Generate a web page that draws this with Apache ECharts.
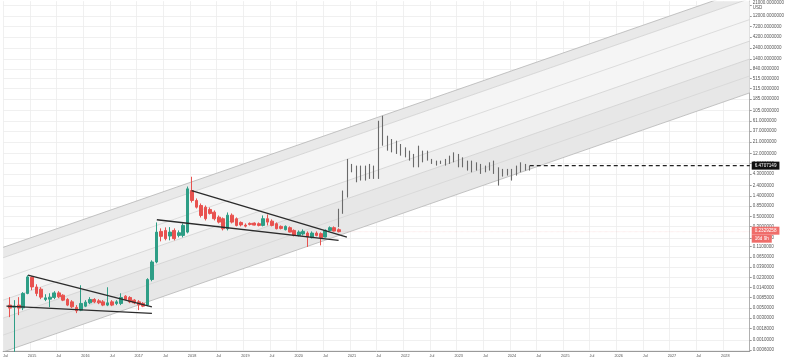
<!DOCTYPE html>
<html><head><meta charset="utf-8">
<script src="https://cdn.jsdelivr.net/npm/echarts@6/dist/echarts.min.js"></script>
<style>html,body{margin:0;padding:0;background:#fff}#c{width:787px;height:360px}</style>
</head><body><div id="c"></div>
<script>
// ---------- DATA ----------
const startYear = 2014, startMonth = 6; // first category = Jul 2014
const monthCount = 168;
const yTickLabels = ["21000.0000000","12000.0000000","7200.0000000","4200.0000000","2400.0000000","1400.0000000","840.0000000","515.0000000","315.0000000","185.0000000","105.0000000","61.0000000","37.0000000","21.0000000","12.0000000","7.2000000","4.3000000","2.4000000","1.4000000","0.8500000","0.5000000","0.3000000","0.1700000","0.1100000","0.0650000","0.0390000","0.0230000","0.0140000","0.0085000","0.0050000","0.0030000","0.0018000","0.0010000","0.0006000"];
const yUnit = "USD";
// coloured monthly candles [open, close, low, high], first one at category 1 (Aug 2014)
const candleStart = 1;
const candleOCLH = [
[0.00578,0.00497,0.00316,0.00863],[0.00522,0.00549,0.00055,0.00742],[0.00578,0.00497,0.00349,0.00863],
[0.00504,0.0104,0.00449,0.0111],[0.0104,0.0239,0.0100,0.0260],[0.0235,0.0144,0.01225,0.0247],
[0.0144,0.0104,0.00907,0.0165],[0.0129,0.00863,0.0078,0.0142],[0.00768,0.00833,0.00706,0.0100],
[0.0078,0.00863,0.00522,0.0105],[0.0085,0.0107,0.0078,0.01165],[0.0107,0.00876,0.0082,0.01165],
[0.00953,0.00742,0.00706,0.0100],[0.00768,0.00578,0.00549,0.0082],[0.00681,0.0053,0.00497,0.00742],
[0.00515,0.00434,0.00386,0.00578],[0.00449,0.00629,0.00427,0.0157],[0.00549,0.00671,0.00522,0.00742],
[0.00648,0.00768,0.00607,0.00863],[0.00768,0.00681,0.00638,0.0082],[0.00716,0.00648,0.00607,0.0078],
[0.00681,0.00578,0.00549,0.00742],[0.00578,0.00648,0.00549,0.0142],[0.00681,0.00578,0.00549,0.00742],
[0.00629,0.00681,0.00578,0.00742],[0.00629,0.0085,0.00578,0.0105],[0.00907,0.00768,0.00742,0.00953],
[0.0085,0.00681,0.00638,0.00907],[0.00742,0.00648,0.00607,0.0078],[0.00681,0.00586,0.00449,0.00742],
[0.00629,0.00549,0.00522,0.00671],[0.00578,0.021,0.00549,0.0224],[0.021,0.0507,0.0192,0.0552],
[0.0507,0.228,0.0475,0.371],[0.236,0.184,0.143,0.275],[0.248,0.164,0.1505,0.289],
[0.187,0.228,0.1505,0.293],[0.248,0.164,0.1505,0.275],[0.193,0.221,0.175,0.248],
[0.193,0.319,0.175,0.353],[0.228,2.01,0.214,2.26],[1.85,1.12,1.01,3.7],
[1.12,0.80,0.749,1.24],[0.871,0.527,0.477,0.963],[0.80,0.447,0.410,0.871],
[0.713,0.583,0.554,0.788],[0.622,0.447,0.410,0.678],[0.484,0.377,0.353,0.527],
[0.447,0.271,0.248,0.477],[0.271,0.535,0.248,0.613],[0.535,0.377,0.353,0.583],
[0.447,0.319,0.304,0.477],[0.371,0.328,0.304,0.390],[0.324,0.308,0.289,0.353],
[0.353,0.336,0.319,0.371],[0.359,0.324,0.319,0.371],[0.348,0.319,0.304,0.371],
[0.319,0.447,0.304,0.527],[0.447,0.377,0.319,0.554],[0.396,0.319,0.304,0.432],
[0.348,0.271,0.261,0.371],[0.304,0.275,0.261,0.319],[0.2575,0.304,0.248,0.319],
[0.285,0.228,0.225,0.304],[0.248,0.193,0.184,0.261],[0.193,0.228,0.184,0.248],
[0.208,0.236,0.193,0.261],[0.217,0.178,0.108,0.236],[0.172,0.217,0.166,0.236],
[0.217,0.193,0.184,0.236],[0.211,0.172,0.117,0.225],[0.178,0.248,0.175,0.261],
[0.248,0.285,0.236,0.304],[0.285,0.240,0.236,0.304],[0.2575,0.233,0.225,0.275]
];
// grey bars [open, close, low, high], first one at category 75 (Oct 2020)
const barStart = 75;
const barOCLH = [
[0.336,0.613,0.293,0.738],[0.613,1.438,0.574,1.848],[1.438,6.48,1.301,9.07],[6.48,5.04,4.63,7.05],
[5.04,3.92,2.80,6.48],[3.92,5.04,3.05,6.48],[5.04,4.56,3.05,6.48],[4.56,5.57,3.32,7.05],
[5.57,5.04,3.32,6.48],[5.04,37.5,3.32,61.9],[37.5,25.1,17.67,79.5],[25.1,17.67,13.75,29.2],
[17.67,15.98,12.62,24.7],[15.98,13.75,11.66,22.7],[13.75,15.2,10.70,19.24],[15.2,11.83,9.83,16.23],
[11.83,9.68,8.32,13.75],[9.68,7.16,5.95,11.66],[7.16,12.44,5.95,17.67],[12.44,10.18,7.64,13.75],
[10.18,9.21,8.32,13.75],[8.76,7.53,7.05,9.07],[7.53,7.16,6.48,8.32],[7.91,7.53,7.05,8.32],
[7.53,8.32,6.48,9.07],[8.32,9.68,7.05,10.70],[9.68,10.18,7.64,12.62],[10.18,7.53,5.95,11.66],
[7.53,6.81,5.95,9.83],[6.81,5.86,5.04,8.32],[5.86,6.16,4.63,8.32],[6.16,5.57,5.04,7.64],
[5.57,5.04,4.27,7.05],[5.04,5.86,4.63,6.48],[5.86,6.48,5.04,7.64],[6.48,5.04,4.27,8.32],
[5.04,3.73,2.374,5.95],[3.92,4.79,3.73,5.49],[4.79,4.34,3.92,5.49],[4.34,4.79,3.05,5.49],
[4.79,5.57,3.92,6.48],[5.57,6.48,4.63,7.64],[6.48,6.16,5.04,7.05],[6.16,6.47,5.04,6.48]
];
const lastPrice = 6.4707149;
const lastPriceFrom = 118.5;        // month position where the dashed price line starts
const candleClose = 0.2329258;
const candleCountdown = "16d 9h";
// channel lines: price at month 0 and at month 168
const channelStart = [0.1059, 0.0628, 0.0219, 0.00742, 0.00301, 0.00128, 0.000546];
const channelEnd   = [48870, 28970, 10100, 3420, 1387, 591, 252];
const channelBands = [[0,1],[1,3],[3,4],[4,6]];
// triangle trend lines [month, price]
const triangle1Upper = [[5.58,0.026],[33.47,0.0053]];
const triangle1Lower = [[0.74,0.00549],[33.47,0.00381]];
const triangle2Upper = [[42.39,1.848],[77.35,0.1776]];
const triangle2Lower = [[34.58,0.425],[75.48,0.1505]];

// ---------- STYLE ----------
const bandFills = ['#e9e9e9','#f5f5f5','#efefef','#e7e7e7'];
const lineColors = ['#b5b5b5','#cfcfcf','#d6d6d6','#d0d0d0','#cfcfcf','#d6d6d6','#b5b5b5'];
const up = '#2e9e86', down = '#e8524f';

// ---------- BUILD ----------
const L = v => Math.log10(v);
const months = [];
for (let k = 0; k < monthCount; k++) {
  const m = (startMonth + k) % 12, y = startYear + Math.floor((startMonth + k) / 12);
  months.push(y + '-' + (m + 1));
}
const isLabelMonth = (i) => { const m = (startMonth + i) % 12; return m === 0 || m === 6; };
const fmtMonth = (v) => { const [y, m] = v.split('-'); return m === '1' ? y : (m === '7' ? 'Jul' : ''); };

const candleSeriesData = months.map((_, i) => {
  const r = candleOCLH[i - candleStart];
  return r ? r.map(L) : '-';
});
const barSeriesData = months.map((_, i) => {
  const r = barOCLH[i - barStart];
  return r ? r.map(L) : '-';
});
const tickVals = yTickLabels.map(s => L(parseFloat(s)));
const yMax = 4.406, yMin = -3.241;

const bandData = channelBands.map(([a, b]) => [0, L(channelStart[a]), L(channelStart[b]), monthCount, L(channelEnd[a]), L(channelEnd[b])]);

const lineSeries = (data, color, width, extra) => Object.assign({
  type: 'line', xAxisIndex: 1, yAxisIndex: 0, symbol: 'none', silent: true, animation: false,
  data: data, lineStyle: { color: color, width: width }, z: 3
}, extra || {});

const series = [];
series.push({
  type: 'custom', xAxisIndex: 1, yAxisIndex: 0, silent: true, clip: true, z: 1,
  encode: { x: [0, 3], y: [1, 2, 4, 5] },
  renderItem: (params, api) => {
    const a0 = api.coord([api.value(0), api.value(1)]);
    const a1 = api.coord([api.value(3), api.value(4)]);
    const b1 = api.coord([api.value(3), api.value(5)]);
    const b0 = api.coord([api.value(0), api.value(2)]);
    return { type: 'polygon', shape: { points: [a0, a1, b1, b0] }, style: { fill: bandFills[params.dataIndex] } };
  },
  data: bandData
});
channelStart.forEach((s, k) => {
  series.push(lineSeries([[0, L(s)], [monthCount, L(channelEnd[k])]], lineColors[k], 0.8, { z: 2 }));
});
[triangle1Upper, triangle1Lower, triangle2Upper, triangle2Lower].forEach(t => {
  series.push(lineSeries(t.map(p => [p[0], L(p[1])]), '#2b2b2b', 1.3, { z: 6 }));
});
series.push({
  type: 'candlestick', xAxisIndex: 0, yAxisIndex: 0, data: candleSeriesData, barWidth: 3.2, z: 5,
  itemStyle: { color: up, color0: down, borderColor: up, borderColor0: down, borderWidth: 1 }
});
series.push({
  type: 'candlestick', xAxisIndex: 0, yAxisIndex: 0, data: barSeriesData, barWidth: 1, z: 5,
  itemStyle: { color: '#6a6a6a', color0: '#6a6a6a', borderColor: '#6a6a6a', borderColor0: '#6a6a6a', borderWidth: 1.1 }
});
// current price dashed line + label
series.push(lineSeries([[lastPriceFrom, L(lastPrice)], [monthCount, L(lastPrice)]], '#222', 1.4, {
  z: 7, lineStyle: { color: '#222', width: 1.4, type: [4, 3] },
  endLabel: { show: true, formatter: () => lastPrice.toFixed(7), color: '#fff', backgroundColor: '#111',
    fontSize: 4.6, padding: [1.5, 3], distance: 2, fontFamily: 'Liberation Sans' }
}));
// candle last close label
series.push(lineSeries([[candleStart + candleOCLH.length - 0.5, L(candleClose)], [monthCount, L(candleClose)]], 'rgba(232,82,79,0.25)', 0.6, {
  z: 7, lineStyle: { color: 'rgba(232,82,79,0.25)', width: 0.6, type: 'dotted' },
  endLabel: { show: true, distance: 2, formatter: () => '{a|' + candleClose.toFixed(7) + '}\n{b|' + candleCountdown + '}',
    offset: [0, 3],
    rich: { a: { color: '#fff', backgroundColor: '#ef6d6a', fontSize: 4.6, padding: [1.5, 3], fontFamily: 'Liberation Sans' },
            b: { color: '#fff', backgroundColor: '#ef6d6a', fontSize: 4.6, padding: [1.5, 3], fontFamily: 'Liberation Sans' } } }
}));

const chart = echarts.init(document.getElementById('c'), null, { renderer: 'canvas' });
chart.setOption({
  animation: false,
  backgroundColor: '#fff',
  grid: { left: 0, right: 34, top: 0, bottom: 9, containLabel: false },
  xAxis: [{
    type: 'category', data: months, boundaryGap: true,
    axisLine: { show: true, onZero: false, lineStyle: { color: '#9a9a9a', width: 1 } },
    axisTick: { show: false },
    axisLabel: { interval: (i) => isLabelMonth(i), formatter: fmtMonth, fontSize: 3.8, color: '#555', margin: 3, fontFamily: 'Liberation Sans' },
    splitLine: { show: true, interval: (i) => isLabelMonth(i), lineStyle: { color: '#ececec', width: 0.8 } }
  }, {
    type: 'value', min: 0, max: monthCount, show: false, axisLine: { onZero: false }
  }],
  yAxis: [{
    type: 'value', position: 'right', min: yMin, max: yMax, scale: true,
    axisLine: { show: true, onZero: false, lineStyle: { color: '#b0b0b0', width: 1 } },
    axisTick: { show: true, customValues: tickVals, length: 2, lineStyle: { color: '#999' } },
    axisLabel: {
      customValues: tickVals, fontSize: 4.5, color: '#555', margin: 3, fontFamily: 'Liberation Sans', lineHeight: 5,
      formatter: (v) => {
        let best = 0, d = 1e9;
        tickVals.forEach((t, k) => { const e = Math.abs(t - v); if (e < d) { d = e; best = k; } });
        return best === 0 ? yTickLabels[0] + '\n' + yUnit : yTickLabels[best];
      }
    },
    splitLine: { show: true, lineStyle: { color: '#ececec', width: 0.8 } }
  }],
  series: series
});
</script>
</body></html>
